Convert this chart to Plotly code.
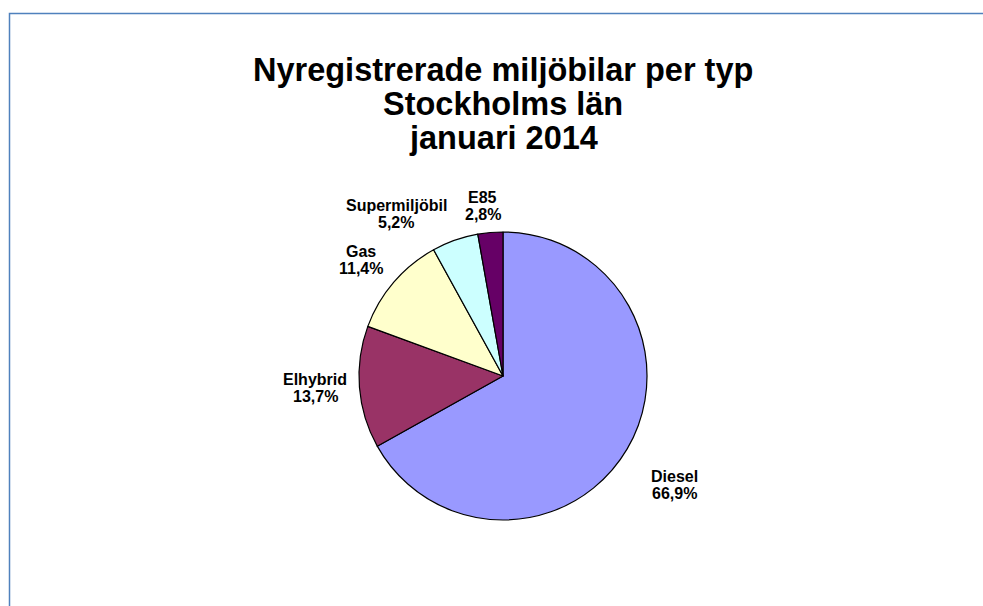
import math
import plotly.graph_objects as go

# ---- data ----
categories = ["Diesel", "Elhybrid", "Gas", "Supermiljöbil", "E85"]
shares = [66.9, 13.7, 11.4, 5.2, 2.8]
title_lines = ["Nyregistrerade miljöbilar per typ", "Stockholms län", "januari 2014"]

# ---- style ----
colors = ["#9999FF", "#993366", "#FFFFCC", "#CCFFFF", "#660066"]
W, H = 983, 606
FONT = "Liberation Sans, Arial, sans-serif"
dom_x = [0.3652, 0.6582]
dom_y = [0.1419, 0.6172]
label_radius = [1.414, 1.308, 1.271, 1.347, 1.188]   # label distance (x pie radius)
label_nudge_deg = [2.0, 0.8, -1.4, -14.0, -1.7]      # manual label offsets, as in the original
title_line_y_px = [69.5, 103.5, 137.5]
label_line_gap = 17.3

fig = go.Figure()
fig.add_trace(go.Pie(
    labels=categories,
    values=shares,
    sort=False,
    direction="clockwise",
    rotation=0,
    marker=dict(colors=colors, line=dict(color="black", width=1.2)),
    textinfo="none",
    hoverinfo="label+percent",
    showlegend=False,
    domain=dict(x=dom_x, y=dom_y),
))

annotations = []
for yl, txt in zip(title_line_y_px, title_lines):
    annotations.append(dict(
        text=f"<b>{txt}</b>", x=(dom_x[0] + dom_x[1]) / 2, y=1 - yl / H,
        xref="paper", yref="paper", xanchor="center", yanchor="middle",
        showarrow=False, font=dict(family=FONT, size=32.5, color="black"),
    ))

# slice label positions derived from the slice angles
cx = (dom_x[0] + dom_x[1]) / 2 * W
cy = H - (dom_y[0] + dom_y[1]) / 2 * H
R = (dom_x[1] - dom_x[0]) * W / 2
total = sum(shares)
cum = 0.0
for name, v, rl, nd in zip(categories, shares, label_radius, label_nudge_deg):
    mid = (cum + v / 2) / total * 360.0 + nd
    cum += v
    a = math.radians(mid)
    lx = cx + rl * R * math.sin(a)
    ly = cy - rl * R * math.cos(a)
    pct = f"{v / total * 100:.1f}%".replace(".", ",")
    for txt, shift in ((name, label_line_gap / 2), (pct, -label_line_gap / 2)):
        annotations.append(dict(
            text=f"<b>{txt}</b>", x=lx / W, y=1 - ly / H, yshift=shift,
            xref="paper", yref="paper", xanchor="center", yanchor="middle",
            showarrow=False, font=dict(family=FONT, size=16, color="black"),
        ))

fig.update_layout(
    width=W, height=H,
    margin=dict(l=0, r=0, t=0, b=0),
    paper_bgcolor="white",
    plot_bgcolor="white",
    annotations=annotations,
    shapes=[dict(
        type="rect", xref="paper", yref="paper",
        x0=9.5 / W, x1=1.05, y0=-0.05, y1=1 - 13.5 / H,
        line=dict(color="#4F81BD", width=1.5), fillcolor="rgba(0,0,0,0)",
        layer="below",
    )],
)

fig.write_html(
    "out.html",
    config={"displayModeBar": False},
    post_script="document.body.style.margin='0';document.body.style.overflow='hidden';",
)
